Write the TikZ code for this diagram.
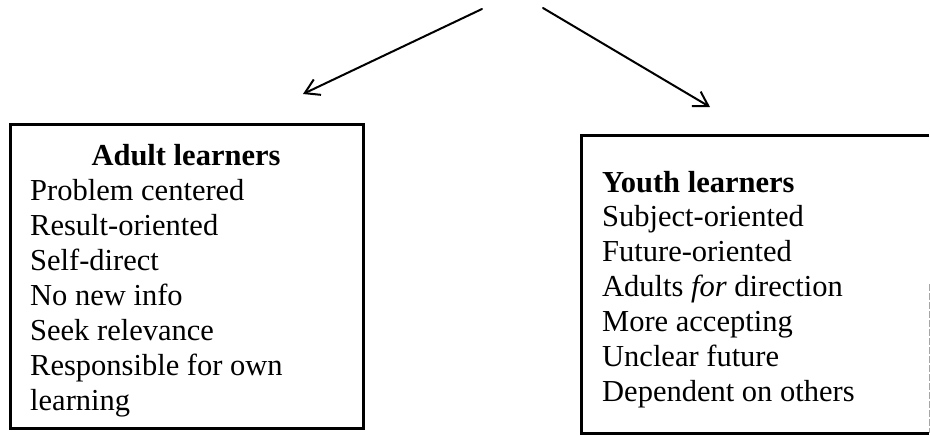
\documentclass[tikz,border=0pt]{standalone}
\usepackage{fontspec}
\setmainfont{Liberation Serif}
\usetikzlibrary{arrows.meta}
\begin{document}
\begin{tikzpicture}[x=1pt,y=-1pt,
  boxframe/.style={line width=3pt, line join=miter},
  listline/.style={inner sep=0pt, anchor=base west, font=\fontsize{30.5}{35}\selectfont},
  headline/.style={inner sep=0pt, anchor=base, font=\fontsize{30.5}{35}\selectfont\bfseries},
  branch/.style={line width=2pt, line cap=round, -{Straight Barb[length=14pt, width=17pt, line width=2pt]}}]
\useasboundingbox (0,0) rectangle (930,436);

% branching arrows
\coordinate (lstart) at (482,9);
\coordinate (ltip) at (303,94);
\coordinate (rstart) at (543,8);
\coordinate (rtip) at (710,107);
\draw[branch] (lstart) -- (ltip);
\draw[branch] (rstart) -- (rtip);

% adult learners box
\node[draw, boxframe, anchor=north west, inner sep=0pt, minimum width=353pt, minimum height=304pt] (adult) at (9,123) {};
\node[headline] (a0) at (186,165) {Adult learners};
\node[listline] (a1) at (30,200) {Problem centered};
\node[listline] (a2) at (30,235) {Result-oriented};
\node[listline] (a3) at (30,270) {Self-direct};
\node[listline] (a4) at (30,305) {No new info};
\node[listline] (a5) at (30,340) {Seek relevance};
\node[listline] (a6) at (30,375) {Responsible for own};
\node[listline] (a7) at (30,410) {learning};

% youth learners box
\node[anchor=north west, inner sep=0pt, minimum width=348pt, minimum height=298pt] (youth) at (581,135) {};
\draw[boxframe] (youth.north east) -- (youth.north west) -- (youth.south west) -- (youth.south east);
\draw[line width=1pt, gray!70, dash pattern=on 7pt off 2pt] (youth.east) -- (youth.south east);
\node[listline, font=\fontsize{30.5}{35}\selectfont\bfseries] (y0) at (602,192) {Youth learners};
\node[listline] (y1) at (602,226) {Subject-oriented};
\node[listline] (y2) at (602,261) {Future-oriented};
\node[listline] (y3) at (602,296) {Adults \textit{for} direction};
\node[listline] (y4) at (602,331) {More accepting};
\node[listline] (y5) at (602,366) {Unclear future};
\node[listline] (y6) at (602,401) {Dependent on others};
\end{tikzpicture}
\end{document}
